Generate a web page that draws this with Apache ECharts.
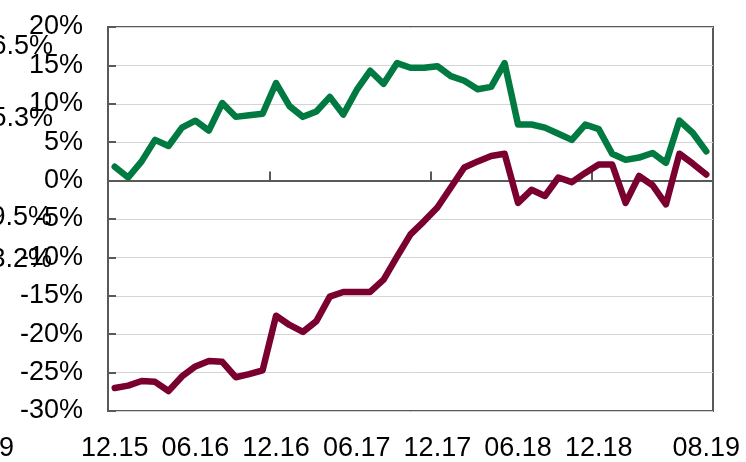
<!DOCTYPE html>
<html>
<head>
<meta charset="utf-8">
<script src="https://cdn.jsdelivr.net/npm/echarts@6/dist/echarts.min.js"></script>
<style>
  html, body { margin: 0; padding: 0; background: #fff; }
  #chart { width: 746px; height: 462px; }
</style>
</head>
<body>
<div id="chart"></div>
<script>
const months = [
  '12.15', '01.16', '02.16', '03.16', '04.16', '05.16', '06.16', '07.16', '08.16', '09.16', '10.16', '11.16',
  '12.16', '01.17', '02.17', '03.17', '04.17', '05.17', '06.17', '07.17', '08.17', '09.17', '10.17', '11.17',
  '12.17', '01.18', '02.18', '03.18', '04.18', '05.18', '06.18', '07.18', '08.18', '09.18', '10.18', '11.18',
  '12.18', '01.19', '02.19', '03.19', '04.19', '05.19', '06.19', '07.19', '08.19'
]
const shownMonths = ['12.15', '06.16', '12.16', '06.17', '12.17', '06.18', '12.18', '08.19']

const greenSeries = [
  1.8, 0.4, 2.5, 5.3, 4.5, 6.9, 7.8, 6.5, 10.1, 8.3, 8.5, 8.7,
  12.7, 9.7, 8.3, 9.0, 10.9, 8.6, 11.8, 14.3, 12.6, 15.3, 14.7, 14.7,
  14.9, 13.6, 13.0, 11.9, 12.2, 15.3, 7.3, 7.3, 6.9, 6.1, 5.3, 7.3,
  6.7, 3.5, 2.7, 3.0, 3.6, 2.3, 7.8, 6.2, 3.8
]
const redSeries = [
  -27.0, -26.7, -26.1, -26.2, -27.4, -25.5, -24.2, -23.5, -23.6, -25.6, -25.2, -24.7,
  -17.6, -18.8, -19.7, -18.3, -15.1, -14.5, -14.5, -14.5, -12.9, -9.9, -7.0, -5.3,
  -3.5, -0.9, 1.7, 2.5, 3.2, 3.5, -2.9, -1.2, -2.0, 0.4, -0.2, 1.0,
  2.1, 2.1, -2.9, 0.6, -0.6, -3.1, 3.5, 2.2, 0.8
]
// clipped labels left over at the left edge
const strayLabels = ['6.5%', '5.3%', '9.5%', '3.2%', '9']

const FONT = "'Liberation Sans', Arial, sans-serif"
const AXIS = '#595959'

const chart = echarts.init(document.getElementById('chart'))

function stray(text, x, y) {
  return {
    type: 'text',
    x: x,
    y: y,
    style: {
      text: text,
      fill: '#000',
      font: '27px ' + FONT,
      textAlign: 'right',
      textVerticalAlign: 'middle'
    }
  }
}

const option = {
  animation: false,
  grid: {
    left: 108,
    right: 33,
    top: 27,
    bottom: 50,
    show: true,
    borderColor: AXIS,
    borderWidth: 2
  },
  xAxis: [
    {
      type: 'category',
      data: months,
      boundaryGap: true,
      axisLine: { onZero: true, lineStyle: { color: AXIS, width: 2 } },
      axisTick: { show: true, inside: true, interval: 11, length: 9, lineStyle: { color: AXIS, width: 2 } },
      axisLabel: { show: false },
      splitLine: { show: false }
    },
    {
      type: 'category',
      data: months,
      position: 'bottom',
      boundaryGap: true,
      axisLine: { show: false },
      axisTick: { show: false },
      axisLabel: {
        interval: (i, v) => shownMonths.includes(v),
        color: '#000',
        fontFamily: FONT,
        fontSize: 27,
        margin: 24
      },
      splitLine: { show: false }
    }
  ],
  yAxis: {
    type: 'value',
    min: -30,
    max: 20,
    interval: 5,
    axisLine: { show: true, lineStyle: { color: AXIS, width: 2 } },
    axisTick: { show: true, inside: true, length: 8, lineStyle: { color: AXIS, width: 2 } },
    axisLabel: {
      formatter: '{value}%',
      color: '#000',
      fontFamily: FONT,
      fontSize: 27,
      margin: 25
    },
    splitLine: { show: true, lineStyle: { color: '#D4D4D4', width: 1 } }
  },
  series: [
    {
      type: 'line',
      data: greenSeries,
      showSymbol: false,
      lineStyle: { color: '#007A40', width: 6.5, join: 'round', cap: 'round' },
      z: 3
    },
    {
      type: 'line',
      data: redSeries,
      showSymbol: false,
      lineStyle: { color: '#7A0030', width: 6.5, join: 'round', cap: 'round' },
      z: 3
    }
  ],
  graphic: [
    stray(strayLabels[0], 53, 47),
    stray(strayLabels[1], 53, 119),
    stray(strayLabels[2], 52, 218),
    stray(strayLabels[3], 52, 260),
    stray(strayLabels[4], 14, 449)
  ]
}

chart.setOption(option)
</script>
</body>
</html>
